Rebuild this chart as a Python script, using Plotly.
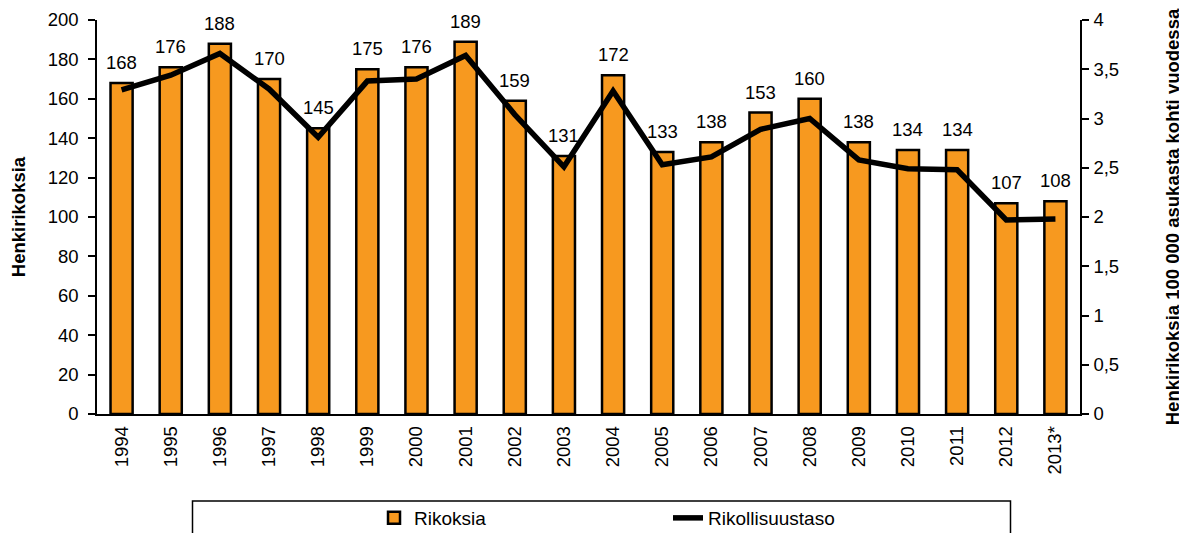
import plotly.graph_objects as go

years = ["1994", "1995", "1996", "1997", "1998", "1999", "2000", "2001", "2002", "2003",
         "2004", "2005", "2006", "2007", "2008", "2009", "2010", "2011", "2012", "2013*"]
rikoksia = [168, 176, 188, 170, 145, 175, 176, 189, 159, 131,
            172, 133, 138, 153, 160, 138, 134, 134, 107, 108]
rikollisuustaso = [3.29, 3.44, 3.66, 3.30, 2.81, 3.38, 3.40, 3.64, 3.04, 2.51,
                   3.28, 2.53, 2.61, 2.89, 3.00, 2.58, 2.49, 2.48, 1.97, 1.98]

FONT = "Liberation Sans, Arial, sans-serif"
ORANGE = "#F7991F"

fig = go.Figure()
fig.add_trace(go.Bar(
    x=years, y=rikoksia, name="Rikoksia",
    marker=dict(color=ORANGE, line=dict(color="black", width=2.5)),
    yaxis="y",
))
fig.add_trace(go.Scatter(
    x=years, y=rikollisuustaso, name="Rikollisuustaso", mode="lines",
    line=dict(color="black", width=5.5), yaxis="y2",
))

# value labels: category index positions on the category axis
for i, v in enumerate(rikoksia):
    fig.add_annotation(x=i, y=v, xref="x", yref="y", text=str(v), showarrow=False,
                       yanchor="bottom", yshift=8, font=dict(family=FONT, size=18.5, color="black"))

tickfont = dict(family=FONT, size=18.5, color="black")
titlefont = dict(family=FONT, size=18.5, color="black", weight="bold")

# page body has an 8px offset; margins compensate so the plot area sits at 97..1080 x 20..414
fig.update_layout(
    width=1187, height=533,
    margin=dict(l=89, r=115, t=12, b=127, autoexpand=False),
    paper_bgcolor="white", plot_bgcolor="white",
    separators=", ",
    bargap=0.55,
    showlegend=True,
    legend=dict(orientation="h", x=0.2818, xanchor="left", y=-0.264, yanchor="middle",
                font=dict(family=FONT, size=19, color="black"),
                entrywidth=249, bgcolor="rgba(0,0,0,0)", borderwidth=0),
    xaxis=dict(type="category", range=[-0.5, len(years) - 0.5], showline=True,
               linecolor="black", linewidth=1.5, ticklabelstandoff=3,
               ticks="", tickangle=-90, tickfont=tickfont, showgrid=False, zeroline=False),
    yaxis=dict(range=[0, 200], dtick=20, showline=True, linecolor="black", linewidth=1.5,
               ticks="outside", ticklen=7, tickwidth=1.5, tickcolor="black", ticklabelstandoff=6,
               tickfont=tickfont, showgrid=False, zeroline=False,
               title=dict(text="Henkirikoksia", font=titlefont, standoff=26)),
    yaxis2=dict(range=[0, 4], dtick=0.5, overlaying="y", side="right", showline=True,
                linecolor="black", linewidth=1.5, ticks="outside", ticklen=7, tickwidth=1.5,
                tickcolor="black", tickfont=tickfont, showgrid=False, zeroline=False,
                ticklabelstandoff=1,
                title=dict(text="Henkirikoksia 100 000 asukasta kohti vuodessa", font=titlefont, standoff=48)),
    yaxis3=dict(range=[0, 200], dtick=20, overlaying="y", side="left", showline=False,
                ticks="inside", ticklen=6, tickwidth=1.5, tickcolor="black",
                showticklabels=False, showgrid=False, zeroline=False),
    yaxis4=dict(range=[0, 4], dtick=0.5, overlaying="y", side="right", showline=False,
                ticks="inside", ticklen=6, tickwidth=1.5, tickcolor="black",
                showticklabels=False, showgrid=False, zeroline=False),
)

# legend frame
fig.add_shape(type="rect", xref="paper", yref="paper",
              x0=(192.5 - 97) / 983, x1=(1010.5 - 97) / 983,
              y0=(414 - 545) / 394, y1=(414 - 501) / 394,
              line=dict(color="black", width=1.5), fillcolor="rgba(0,0,0,0)", layer="below")

fig.write_html("out.html")
